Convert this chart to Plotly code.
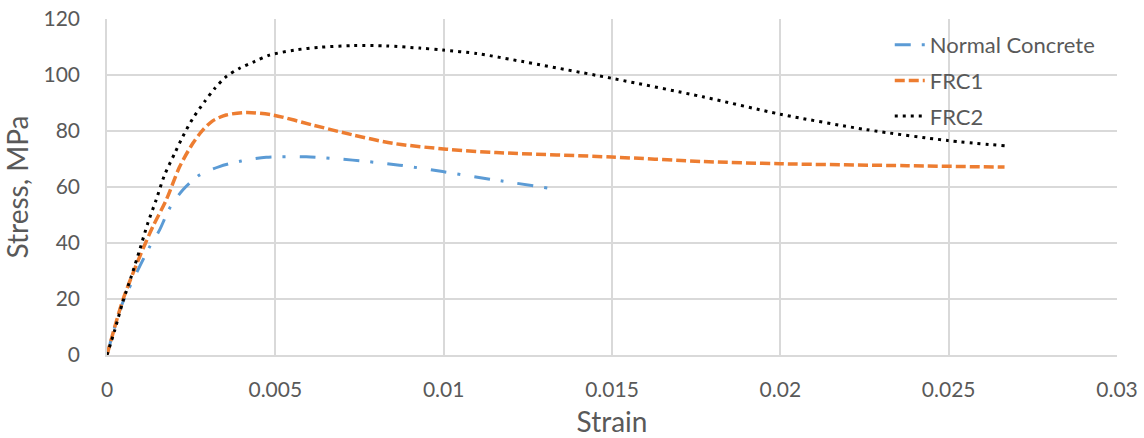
import plotly.graph_objects as go

# Normal Concrete
nc_strain = [0, 0.00042, 0.00092, 0.00127, 0.00156, 0.00186, 0.00225, 0.00275, 0.00334, 0.00399, 0.00473, 0.00592, 0.00730, 0.00869, 0.00997, 0.01137, 0.01312]
nc_stress = [0, 17.3, 30.4, 38.7, 44.6, 52.4, 58.9, 64.3, 67.3, 69.3, 70.6, 70.8, 69.6, 67.8, 65.5, 62.8, 59.6]

# FRC1
frc1_strain = [0, 0.00047, 0.00097, 0.00136, 0.00176, 0.00216, 0.00255, 0.00285, 0.00315, 0.00354, 0.00414, 0.00493, 0.00612, 0.00730, 0.00849, 0.01008, 0.01156, 0.0150, 0.0177, 0.0200, 0.02376, 0.02666]
frc1_stress = [0, 19.6, 35.1, 45.8, 55.4, 67.3, 75.6, 80.4, 83.7, 85.7, 86.6, 85.7, 82.1, 78.6, 75.6, 73.5, 72.3, 70.7, 69.1, 68.3, 67.6, 67.1]

# FRC2
frc2_strain = [0, 0.00023, 0.00047, 0.00072, 0.00097, 0.00121, 0.00146, 0.00171, 0.00201, 0.00225, 0.00255, 0.0029, 0.0032, 0.00354, 0.00394, 0.00438, 0.00483, 0.00557, 0.00632, 0.0073, 0.0083, 0.00929, 0.00998, 0.01097, 0.01166, 0.0150, 0.0177, 0.0200, 0.02255, 0.02497, 0.02667]
frc2_stress = [0, 8.9, 19.0, 28.0, 37.5, 47.0, 55.4, 64.3, 72.0, 78.0, 84.5, 90.5, 95.2, 99.4, 102.4, 104.8, 107.1, 108.9, 109.9, 110.5, 110.4, 109.6, 108.9, 107.7, 106.3, 98.8, 92.2, 86.0, 80.5, 76.6, 74.7]

x_ticks = [0, 0.005, 0.01, 0.015, 0.02, 0.025, 0.03]
x_labels = ["0", "0.005", "0.01", "0.015", "0.02", "0.025", "0.03"]
y_ticks = [0, 20, 40, 60, 80, 100, 120]

FONT = "Lato"
GRID = "#D9D9D9"
fig = go.Figure()
fig.add_trace(go.Scatter(x=nc_strain, y=nc_stress, mode="lines", name="Normal Concrete",
                         legendgroup="a",
                         line=dict(color="#5B9BD5", width=3, dash="16px,11px,3px,14px", shape="spline", smoothing=0.8)))
fig.add_trace(go.Scatter(x=frc1_strain, y=frc1_stress, mode="lines", name="FRC1",
                         legendgroup="b",
                         line=dict(color="#ED7D31", width=3.5, dash="10px,4px", shape="spline", smoothing=0.8)))
fig.add_trace(go.Scatter(x=frc2_strain, y=frc2_stress, mode="lines", name="FRC2",
                         legendgroup="c",
                         line=dict(color="#000000", width=3, dash="3px,5px", shape="spline", smoothing=0.8)))

fig.update_layout(
    width=1144, height=438,
    margin=dict(l=107, r=27, t=19, b=83),
    paper_bgcolor="white", plot_bgcolor="white",
    font=dict(family=FONT, color="#595959", size=21),
    showlegend=True,
    legend=dict(x=0.775, y=0.985, xanchor="left", yanchor="top", bgcolor="rgba(0,0,0,0)",
                font=dict(size=22, color="#595959"), tracegroupgap=4),
)
fig.update_xaxes(range=[0, 0.03], tickvals=x_ticks, ticktext=x_labels,
                 showgrid=True, gridcolor=GRID, gridwidth=1.5,
                 showline=True, linecolor=GRID, linewidth=1.5, automargin=False,
                 zeroline=False, ticks="", ticklabelstandoff=15,
                 title=dict(text="Strain", font=dict(size=28, color="#595959"), standoff=17))
fig.update_yaxes(range=[0, 120], tickvals=y_ticks,
                 showgrid=True, gridcolor=GRID, gridwidth=1.5,
                 showline=True, linecolor=GRID, linewidth=1.5, automargin=False,
                 zeroline=False, ticks="", ticklabelstandoff=21,
                 title=dict(text="Stress, MPa", font=dict(size=28, color="#595959"), standoff=9))

fig.write_html("out.html")
